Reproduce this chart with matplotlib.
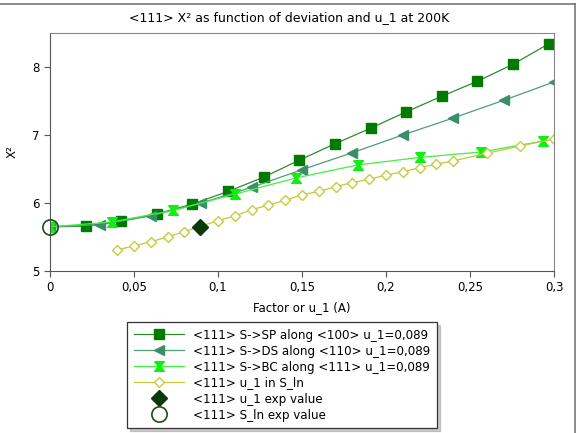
import matplotlib
matplotlib.use("Agg")
import matplotlib.pyplot as plt
from matplotlib.lines import Line2D
from matplotlib.ticker import FuncFormatter

# S->SP along <100>
sp_x = [0, 0.0212, 0.0424, 0.0636, 0.0848, 0.106, 0.1272, 0.1484, 0.1696,
        0.1908, 0.212, 0.2332, 0.2544, 0.2756, 0.2968]
sp_y = [5.65, 5.66, 5.735, 5.84, 5.985, 6.17, 6.38, 6.63, 6.87,
        7.10, 7.34, 7.57, 7.79, 8.04, 8.34]

# S->DS along <110>
ds_x = [0, 0.03, 0.06, 0.09, 0.12, 0.15, 0.18, 0.21, 0.24, 0.27, 0.30]
ds_y = [5.65, 5.68, 5.81, 6.00, 6.23, 6.49, 6.74, 7.00, 7.25, 7.51, 7.78]

# S->BC along <111>
bc_x = [0, 0.0367, 0.0733, 0.11, 0.1467, 0.1833, 0.22, 0.2567, 0.2933]
bc_y = [5.65, 5.72, 5.89, 6.13, 6.37, 6.56, 6.67, 6.75, 6.91]

# u_1 in S_ln
ln_x = [0.04, 0.05, 0.06, 0.07, 0.08, 0.09, 0.10, 0.11, 0.12, 0.13, 0.14,
        0.15, 0.16, 0.17, 0.18, 0.19, 0.20, 0.21, 0.22, 0.23, 0.24,
        0.26, 0.28, 0.30]
ln_y = [5.31, 5.37, 5.43, 5.50, 5.58, 5.66, 5.74, 5.81, 5.90, 5.97, 6.04,
        6.12, 6.17, 6.24, 6.30, 6.35, 6.41, 6.46, 6.52, 6.57, 6.62,
        6.73, 6.84, 6.94]

# experimental values
u1_exp = (0.089, 5.65)
sln_exp = (0, 5.65)

labels = ["<111> S->SP along <100> u_1=0,089",
          "<111> S->DS along <110> u_1=0,089",
          "<111> S->BC along <111> u_1=0,089",
          "<111> u_1 in S_ln",
          "<111> u_1 exp value",
          "<111> S_ln exp value"]

hourglass = [(-1, 1), (1, 1), (0.2, 0), (1, -1), (-1, -1), (-0.2, 0), (-1, 1)]

plt.rcParams['font.family'] = 'DejaVu Sans'
plt.rcParams['font.size'] = 8.5

fig = plt.figure(figsize=(5.79, 4.33), dpi=100)
ax = fig.add_axes([50 / 579, 1 - 271 / 433, 504 / 579, 238 / 433])

h1, = ax.plot(sp_x, sp_y, color='#2e8b2e', lw=0.9, marker='s', ms=6.5,
              mfc='#007a00', mec='#007a00', label=labels[0])
h2, = ax.plot(ds_x, ds_y, color='#4a9f78', lw=0.9, marker='<', ms=7,
              mfc='#3a8f68', mec='#3a8f68', label=labels[1])
h3, = ax.plot(bc_x, bc_y, color='#44ee44', lw=0.9, marker=hourglass, ms=7,
              mfc='#11ee11', mec='#11ee11', label=labels[2])
h4, = ax.plot(ln_x, ln_y, color='#c4c83a', lw=0.9, marker='D', ms=5,
              mfc='white', mec='#c4cc40', label=labels[3])
h5, = ax.plot([u1_exp[0]], [u1_exp[1]], ls='none', marker='D', ms=8.5,
              color='#0a3a0a', label=labels[4])
h6, = ax.plot([sln_exp[0]], [sln_exp[1]], ls='none', marker='o', ms=11,
              mfc='none', mec='#1e4a1e', mew=1.2, label=labels[5],
              clip_on=False, zorder=5)

ax.set_xlim(0, 0.3)
ax.set_ylim(5, 8.5)
ax.set_xticks([0, 0.05, 0.1, 0.15, 0.2, 0.25, 0.3])
ax.set_yticks([5, 6, 7, 8])
ax.xaxis.set_major_formatter(FuncFormatter(lambda v, p: f'{v:g}'.replace('.', ',')))
ax.tick_params(direction='out', length=4, color='#555555', labelsize=8.5)
for s in ax.spines.values():
    s.set_color('#888888')
ax.spines['left'].set_color('#555555')
ax.spines['bottom'].set_color('#555555')

ax.set_xlabel('Factor or u_1 (A)', labelpad=5)
ax.set_ylabel('X²')
ax.yaxis.set_label_coords(-31 / 504, 0.5)
fig.suptitle('<111> X² as function of deviation and u_1 at 200K',
             x=0.5, y=1 - 11 / 433, fontsize=9)

leg = fig.legend(handles=[h1, h2, h3, h4, h5, h6], loc='upper left',
                 bbox_to_anchor=(127 / 579, 1 - 322 / 433), borderaxespad=0,
                 fancybox=False, shadow={'color': '#999999'}, handlelength=4.2,
                 labelspacing=0.25, borderpad=0.55, fontsize=8.6)
leg.get_frame().set_edgecolor('#333333')
leg.get_frame().set_linewidth(0.9)

# outer frame lines (top and right)
fig.add_artist(Line2D([0, 575 / 579], [1 - 4 / 433, 1 - 4 / 433],
                      transform=fig.transFigure, color='#777777', lw=1.2))
fig.add_artist(Line2D([575 / 579, 575 / 579], [0, 1 - 4 / 433],
                      transform=fig.transFigure, color='#777777', lw=1.2))

fig.savefig('out.png', dpi=100)
